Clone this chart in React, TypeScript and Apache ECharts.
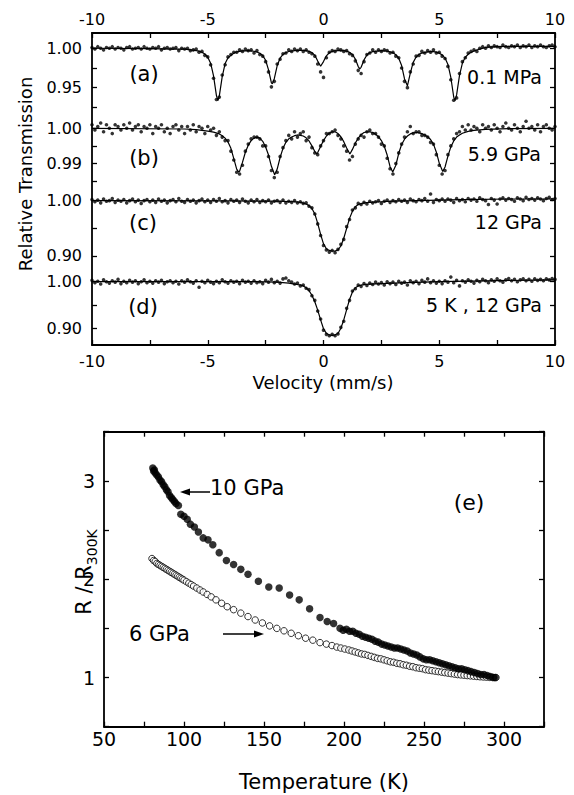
import React, { useEffect, useRef } from 'react';
import * as echarts from 'echarts';

const FONT = 'DejaVu Sans';

// Mössbauer channel grid: velocity = V_START + i * V_STEP
const V_START = -10;
const V_STEP = 0.125;

// (a) 0.1 MPa — measured points
const A_PTS = [
  1.001, 0.999, 1.002, 1.000, 0.998, 1.001, 1.000, 1.002, 0.999, 1.001,
  1.000, 0.998, 1.001, 1.002, 0.999, 1.000, 1.001, 0.999, 1.002, 1.000,
  0.999, 1.001, 1.000, 1.002, 0.998, 1.000, 1.001, 0.999, 1.000, 1.001,
  0.997, 1.000, 0.999, 1.000, 0.997, 0.998, 0.999, 0.995, 0.996, 0.991,
  0.989, 0.979, 0.962, 0.935, 0.938, 0.966, 0.979, 0.989, 0.992, 0.995,
  0.995, 0.998, 0.996, 0.999, 0.997, 0.998, 0.994, 0.997, 0.992, 0.990,
  0.983, 0.970, 0.951, 0.958, 0.980, 0.986, 0.993, 0.994, 0.998, 0.996,
  0.999, 0.997, 0.999, 0.996, 0.998, 0.995, 0.993, 0.990, 0.980, 0.970,
  0.963, 0.988, 0.995, 0.997, 0.996, 0.999, 0.998, 0.996, 0.997, 0.993,
  0.991, 0.984, 0.972, 0.968, 0.983, 0.992, 0.994, 0.998, 0.995, 0.998,
  0.996, 0.998, 0.997, 0.994, 0.995, 0.990, 0.988, 0.975, 0.958, 0.950,
  0.970, 0.980, 0.990, 0.991, 0.996, 0.994, 0.997, 0.995, 0.998, 0.994,
  0.995, 0.990, 0.987, 0.977, 0.960, 0.934, 0.937, 0.968, 0.983, 0.988,
  0.994, 0.996, 0.998, 0.996, 1.000, 1.002, 1.000, 1.003, 1.001, 1.003,
  1.002, 1.001, 1.004, 1.002, 1.001, 1.003, 1.002, 1.004, 1.001, 1.003,
  1.002, 1.004, 1.001, 1.003, 1.002, 1.004, 1.002, 1.001, 1.003, 1.004,
  1.002,
];
// (a) fitted curve [velocity, transmission]
const A_FIT = [
  [-10, 1.0], [-7.5, 0.9995], [-6.5, 0.999], [-6, 0.9988], [-5.75, 0.998], [-5.5, 0.997],
  [-5.375, 0.9963], [-5.25, 0.9949], [-5.125, 0.9927], [-5, 0.9887], [-4.875, 0.981],
  [-4.75, 0.965], [-4.625, 0.94], [-4.56, 0.9335], [-4.5, 0.9395], [-4.375, 0.964],
  [-4.25, 0.9806], [-4.125, 0.988], [-4, 0.991], [-3.875, 0.9936], [-3.75, 0.9955],
  [-3.5, 0.9966], [-3.25, 0.9969], [-3, 0.9962], [-2.875, 0.9953], [-2.75, 0.9937],
  [-2.625, 0.9907], [-2.5, 0.9848], [-2.375, 0.9726], [-2.25, 0.9561], [-2.21, 0.955],
  [-2.125, 0.9614], [-2, 0.9781], [-1.875, 0.9874], [-1.75, 0.9921], [-1.625, 0.9945],
  [-1.5, 0.9959], [-1.25, 0.997], [-1, 0.9975], [-0.75, 0.997], [-0.625, 0.996],
  [-0.5, 0.9945], [-0.375, 0.991], [-0.25, 0.9837], [-0.125, 0.9772], [0, 0.9831],
  [0.125, 0.9904], [0.25, 0.9943], [0.375, 0.996], [0.5, 0.9968], [0.75, 0.9973],
  [0.875, 0.9969], [1, 0.9963], [1.125, 0.9948], [1.25, 0.9921], [1.375, 0.9863],
  [1.5, 0.9768], [1.57, 0.9738], [1.625, 0.9759], [1.75, 0.9852], [1.875, 0.9914],
  [2, 0.9945], [2.125, 0.9958], [2.5, 0.9969], [2.75, 0.9963], [2.875, 0.9955],
  [3, 0.9942], [3.125, 0.9918], [3.25, 0.9872], [3.375, 0.9781], [3.5, 0.9611],
  [3.625, 0.9523], [3.75, 0.9684], [3.875, 0.9821], [4, 0.9888], [4.125, 0.9922],
  [4.25, 0.9939], [4.5, 0.9953], [4.625, 0.996], [4.75, 0.9957], [4.875, 0.9951],
  [5, 0.9938], [5.125, 0.9916], [5.25, 0.9876], [5.375, 0.9795], [5.5, 0.9631],
  [5.625, 0.9381], [5.68, 0.9336], [5.75, 0.9408], [5.875, 0.9657], [6, 0.9812],
  [6.125, 0.9886], [6.25, 0.9924], [6.375, 0.9948], [6.5, 0.9965], [6.75, 0.999],
  [7, 1.001], [7.5, 1.002], [8, 1.0025], [10, 1.0025],
];

// (b) 5.9 GPa
const B_PTS = [
  1.0010, 0.9995, 1.0005, 1.0015, 0.9990, 1.0010, 1.0000, 0.9985, 1.0010, 1.0005,
  0.9995, 1.0010, 1.0000, 1.0015, 0.9995, 1.0005, 1.0010, 0.9990, 1.0005, 1.0000,
  1.0010, 0.9985, 1.0005, 1.0000, 1.0010, 0.9990, 1.0000, 0.9985, 1.0005, 1.0010,
  0.9995, 1.0005, 0.9985, 1.0005, 0.9995, 1.0010, 0.9990, 1.0005, 1.0000, 0.9985,
  1.0005, 0.9995, 1.0000, 0.9980, 0.9990, 0.9975, 0.9965, 0.9965, 0.9935, 0.9910,
  0.9875, 0.9870, 0.9895, 0.9935, 0.9955, 0.9970, 0.9975, 0.9975, 0.9970, 0.9950,
  0.9950, 0.9920, 0.9880, 0.9860, 0.9875, 0.9920, 0.9945, 0.9965, 0.9980, 0.9970,
  0.9990, 0.9975, 0.9985, 0.9990, 0.9965, 0.9975, 0.9945, 0.9930, 0.9925, 0.9950,
  0.9965, 0.9985, 0.9985, 0.9990, 0.9995, 0.9980, 0.9970, 0.9950, 0.9935, 0.9910,
  0.9920, 0.9955, 0.9970, 0.9980, 0.9975, 0.9990, 0.9995, 0.9985, 0.9985, 0.9975,
  0.9955, 0.9950, 0.9915, 0.9885, 0.9870, 0.9900, 0.9930, 0.9955, 0.9975, 0.9990,
  1.0005, 0.9985, 0.9990, 0.9990, 0.9980, 0.9980, 0.9975, 0.9960, 0.9955, 0.9925,
  0.9895, 0.9870, 0.9880, 0.9925, 0.9950, 0.9970, 0.9985, 0.9990, 1.0005, 0.9995,
  1.0010, 0.9995, 1.0005, 1.0000, 0.9990, 1.0010, 1.0000, 1.0005, 0.9995, 1.0010,
  1.0000, 0.9990, 1.0005, 1.0015, 1.0000, 0.9995, 1.0010, 1.0000, 0.9990, 1.0005,
  1.0020, 1.0000, 1.0005, 0.9995, 1.0010, 0.9990, 1.0005, 1.0010, 1.0000, 0.9995,
  1.0005,
];
const B_FIT = [
  [-10, 1.0], [-6, 0.9998], [-5.5, 0.9996], [-5, 0.9992], [-4.75, 0.9989], [-4.5, 0.9984],
  [-4.375, 0.9979], [-4.25, 0.9972], [-4.125, 0.9961], [-4, 0.9943], [-3.875, 0.9914],
  [-3.75, 0.9884], [-3.67, 0.9876], [-3.625, 0.9878], [-3.5, 0.9903], [-3.375, 0.9932],
  [-3.25, 0.9952], [-3.125, 0.9965], [-3, 0.9972], [-2.875, 0.9975], [-2.75, 0.9972],
  [-2.625, 0.9963], [-2.5, 0.9947], [-2.375, 0.9924], [-2.25, 0.9892], [-2.11, 0.9868],
  [-2, 0.9884], [-1.875, 0.9917], [-1.75, 0.9943], [-1.625, 0.996], [-1.5, 0.997],
  [-1.375, 0.9975], [-1.25, 0.9979], [-1.125, 0.9981], [-1, 0.998], [-0.875, 0.9978],
  [-0.75, 0.9973], [-0.625, 0.9964], [-0.5, 0.995], [-0.375, 0.9934], [-0.29, 0.9927],
  [-0.25, 0.9931], [-0.125, 0.9948], [0, 0.9965], [0.125, 0.9978], [0.25, 0.9986],
  [0.375, 0.999], [0.5, 0.999], [0.625, 0.9985], [0.75, 0.9976], [0.875, 0.9962],
  [1, 0.9944], [1.14, 0.9927], [1.25, 0.994], [1.375, 0.9958], [1.5, 0.9972],
  [1.625, 0.9982], [1.75, 0.9988], [1.875, 0.999], [2, 0.999], [2.125, 0.9988],
  [2.25, 0.9983], [2.375, 0.9976], [2.5, 0.9965], [2.625, 0.9949], [2.75, 0.9924],
  [2.875, 0.9891], [2.99, 0.9876], [3.125, 0.9895], [3.25, 0.9929], [3.375, 0.9954],
  [3.5, 0.9969], [3.625, 0.9978], [3.75, 0.9984], [3.875, 0.9987], [4, 0.9988],
  [4.125, 0.9987], [4.25, 0.9985], [4.375, 0.9981], [4.5, 0.9976], [4.625, 0.9968],
  [4.75, 0.9955], [4.875, 0.9932], [5, 0.9901], [5.15, 0.9877], [5.25, 0.989],
  [5.375, 0.9921], [5.5, 0.9947], [5.625, 0.9964], [5.75, 0.9975], [5.875, 0.9981],
  [6, 0.9986], [6.25, 0.9991], [6.5, 0.9994], [7, 0.9997], [8, 0.9999], [10, 1.0],
];

// (c) 12 GPa
const C_PTS = [
  1.002, 0.998, 1.001, 0.996, 1.003, 0.999, 1.000, 1.004, 0.997, 1.001,
  0.999, 1.002, 0.996, 1.000, 1.003, 0.998, 1.001, 0.995, 1.000, 1.002,
  0.998, 1.001, 0.997, 1.003, 0.999, 1.001, 0.996, 1.000, 1.002, 0.998,
  1.004, 0.999, 0.997, 1.002, 0.999, 1.001, 0.996, 1.000, 1.003, 0.998,
  1.001, 0.997, 1.002, 0.999, 1.004, 0.998, 1.000, 0.996, 1.002, 0.999,
  1.001, 0.997, 1.003, 0.999, 0.996, 1.001, 0.998, 1.002, 0.997, 1.000,
  0.998, 1.001, 0.996, 0.999, 1.000, 0.997, 1.001, 0.996, 0.999, 0.997,
  1.000, 0.996, 0.998, 0.995, 0.996, 0.990, 0.987, 0.976, 0.958, 0.937,
  0.919, 0.911, 0.907, 0.910, 0.906, 0.912, 0.921, 0.930, 0.953, 0.966,
  0.983, 0.987, 0.995, 0.993, 0.997, 0.994, 0.999, 0.996, 0.998, 1.000,
  0.995, 0.999, 1.001, 0.997, 1.000, 0.998, 1.002, 0.999, 1.001, 0.997,
  1.003, 1.000, 0.998, 1.002, 1.000, 1.004, 0.999, 1.012, 0.997, 1.002,
  1.000, 1.003, 0.999, 1.003, 1.001, 0.997, 1.004, 1.000, 1.002, 0.998,
  1.004, 1.001, 1.003, 0.999, 1.005, 1.002, 1.000, 0.993, 1.004, 1.001,
  0.994, 1.003, 1.005, 1.001, 1.004, 1.002, 0.999, 1.005, 1.003, 1.000,
  1.006, 1.002, 1.004, 1.001, 1.005, 1.003, 1.000, 1.004, 1.006, 1.002,
  1.004,
];
const C_FIT = [
  [-10, 1.0], [-4, 0.9995], [-2, 0.999], [-1.25, 0.998], [-1, 0.997], [-0.75, 0.994],
  [-0.625, 0.991], [-0.5, 0.986], [-0.375, 0.976], [-0.25, 0.959], [-0.125, 0.939],
  [0, 0.922], [0.125, 0.913], [0.25, 0.91], [0.375, 0.909], [0.5, 0.909], [0.625, 0.911],
  [0.75, 0.918], [0.875, 0.932], [1, 0.95], [1.125, 0.968], [1.25, 0.981], [1.375, 0.989],
  [1.5, 0.993], [1.75, 0.996], [2, 0.997], [2.5, 0.998], [3, 0.999], [4, 1.0], [6, 1.002],
  [8, 1.003], [10, 1.003],
];

// (d) 5 K, 12 GPa
const D_PTS = [
  1.003, 0.998, 1.001, 0.995, 1.004, 1.000, 0.997, 1.002, 0.999, 1.005,
  0.996, 1.001, 0.998, 1.003, 0.999, 1.002, 0.996, 1.000, 1.004, 0.998,
  1.001, 0.997, 1.002, 0.999, 1.003, 0.996, 1.000, 1.002, 0.998, 1.001,
  0.995, 1.002, 0.999, 1.004, 1.000, 0.997, 1.002, 0.988, 1.001, 0.998,
  1.003, 0.999, 0.996, 1.001, 0.998, 1.004, 1.000, 0.997, 1.002, 0.999,
  1.001, 0.996, 1.003, 0.999, 1.001, 0.997, 1.002, 0.998, 1.000, 0.996,
  1.003, 0.999, 1.005, 0.998, 1.001, 0.997, 1.006, 1.008, 1.002, 0.999,
  0.995, 0.997, 0.991, 0.993, 0.986, 0.983, 0.970, 0.960, 0.937, 0.920,
  0.896, 0.887, 0.884, 0.887, 0.884, 0.888, 0.902, 0.915, 0.943, 0.960,
  0.980, 0.985, 0.993, 0.990, 0.996, 0.992, 0.997, 0.994, 0.999, 0.995,
  0.998, 0.993, 1.000, 0.996, 0.999, 0.994, 1.001, 0.997, 0.999, 0.993,
  1.002, 0.998, 1.001, 0.996, 1.003, 0.999, 1.006, 0.998, 1.002, 0.997,
  1.001, 0.996, 1.002, 0.999, 1.010, 0.998, 1.003, 0.991, 1.002, 0.999,
  1.004, 1.001, 0.997, 1.003, 1.000, 1.005, 1.002, 0.998, 1.004, 1.001,
  1.006, 1.002, 0.999, 1.004, 1.007, 1.002, 1.005, 1.000, 1.004, 1.006,
  1.002, 1.005, 1.001, 1.006, 1.003, 1.005, 1.002, 1.006, 1.004, 1.007,
  1.005,
];
const D_FIT = [
  [-10, 1.0], [-3, 1.0], [-2, 0.999], [-1.5, 0.997], [-1.25, 0.995], [-1, 0.993],
  [-0.875, 0.991], [-0.75, 0.987], [-0.625, 0.981], [-0.5, 0.971], [-0.375, 0.957],
  [-0.25, 0.939], [-0.125, 0.918], [0, 0.899], [0.125, 0.889], [0.25, 0.886],
  [0.375, 0.885], [0.5, 0.886], [0.625, 0.889], [0.75, 0.9], [0.875, 0.918], [1, 0.94],
  [1.125, 0.962], [1.25, 0.978], [1.375, 0.987], [1.5, 0.991], [1.75, 0.994], [2, 0.995],
  [3, 0.997], [5, 1.0], [7, 1.002], [10, 1.004],
];

// (e) resistance ratio vs temperature
const T_10GPA = [
  80.5, 81, 81.5, 82, 83, 84, 85, 86, 87, 88, 89, 90, 91, 92, 93, 94, 95,
  96.5, 98, 100, 102, 104, 106.5, 109, 112, 115, 118, 122, 126.5, 131, 135.5, 140,
  146.5, 153, 159.5, 166, 172, 178.5, 185, 189.5, 193.5, 197.5,
  199.5, 201.5, 203.5, 205.5, 207.5, 209.5, 211.5, 213.5, 215.5, 217.5,
  219.5, 221.5, 223.5, 225.5, 227.5, 229.5, 231.5, 233.5, 235.5, 237.5,
  239.5, 241.5, 243.5, 245.5, 247.5, 249.5, 251.5, 253.5, 255.5, 257.5,
  259.5, 261.5, 263.5, 265.5, 267.5, 269.5, 271.5, 273.5, 275.5, 277.5,
  279.5, 281.5, 283.5, 285.5, 287.5, 289.5, 291.5, 293.5, 294.5,
];
const R_10GPA = [
  3.13, 3.10, 3.11, 3.08, 3.06, 3.04, 3.01, 2.99, 2.96, 2.94, 2.91, 2.89, 2.85, 2.83, 2.81, 2.79, 2.77,
  2.75, 2.66, 2.64, 2.61, 2.56, 2.53, 2.48, 2.42, 2.40, 2.35, 2.27, 2.19, 2.15, 2.10, 2.05,
  1.98, 1.92, 1.91, 1.84, 1.79, 1.70, 1.61, 1.57, 1.55, 1.50,
  1.48, 1.49, 1.47, 1.47, 1.45, 1.44, 1.42, 1.41, 1.40, 1.39,
  1.37, 1.36, 1.34, 1.33, 1.32, 1.31, 1.30, 1.30, 1.29, 1.28,
  1.27, 1.25, 1.24, 1.23, 1.21, 1.19, 1.18, 1.18, 1.17, 1.16,
  1.15, 1.14, 1.13, 1.12, 1.11, 1.10, 1.09, 1.09, 1.08, 1.07,
  1.06, 1.05, 1.04, 1.03, 1.03, 1.02, 1.01, 1.00, 1.00,
];
const T_6GPA = [
  80, 81, 82, 83, 84, 85, 86, 87, 88, 89, 90, 91, 92, 93, 94, 95, 96, 97, 98, 99, 100,
  101.5, 103, 104.5, 106, 108, 110, 112, 114.5, 117, 120, 123.5, 127, 131, 135.5, 140,
  144.5, 149, 153.5, 158, 162.5, 167, 171.5, 176, 180.5, 185, 189, 192.5, 195.5, 198, 200.5,
  203, 205, 207, 209, 211, 213, 215, 217, 219, 221, 223, 225, 227, 229, 231, 233, 235, 237,
  239, 241, 243, 245, 247, 249, 251, 253, 255, 257, 259, 261, 263, 265, 267, 269, 271, 273,
  275, 277, 279, 281, 283, 285, 287, 289, 291, 293, 295,
];
const R_6GPA = [
  2.21, 2.19, 2.18, 2.16, 2.15, 2.14, 2.13, 2.12, 2.11, 2.10, 2.09, 2.08, 2.07, 2.06, 2.05, 2.04, 2.03, 2.02, 2.01, 2.00, 1.99,
  1.975, 1.96, 1.945, 1.93, 1.91, 1.89, 1.87, 1.845, 1.82, 1.79, 1.755, 1.72, 1.69, 1.655, 1.62,
  1.585, 1.555, 1.525, 1.50, 1.475, 1.45, 1.425, 1.40, 1.38, 1.355, 1.34, 1.325, 1.31, 1.30, 1.29,
  1.28, 1.27, 1.26, 1.25, 1.24, 1.235, 1.225, 1.215, 1.205, 1.195, 1.19, 1.18, 1.17, 1.16, 1.155, 1.145, 1.14, 1.13,
  1.125, 1.115, 1.11, 1.10, 1.095, 1.09, 1.08, 1.075, 1.07, 1.065, 1.06, 1.055, 1.05, 1.045, 1.04, 1.035, 1.03, 1.027,
  1.024, 1.02, 1.017, 1.014, 1.011, 1.008, 1.006, 1.004, 1.002, 1.001, 1.0,
];

const V_MAJOR = [-10, -5, 0, 5, 10];
const T_MAJOR = [50, 100, 150, 200, 250, 300];
const R_MAJOR = [1, 2, 3];

const toChannels = (arr: number[]) => arr.map((y, i) => [V_START + i * V_STEP, y]);
const pair = (xs: number[], ys: number[]) => xs.map((x, i) => [x, ys[i]]);

const BLACK = '#000';

function buildOption() {
  const L = 92;
  const W = 463;
  const panels = [
    { pts: A_PTS, fit: A_FIT, top: 32.5, height: 78.8, min: 0.92, max: 1.02, ticks: [0.925, 0.95, 0.975, 1.0], labels: [0.95, 1.0] },
    { pts: B_PTS, fit: B_FIT, top: 114.2, height: 70.4, min: 0.984, max: 1.004, ticks: [0.985, 0.99, 0.995, 1.0], labels: [0.99, 1.0] },
    { pts: C_PTS, fit: C_FIT, top: 189.6, height: 71.9, min: 0.89, max: 1.02, ticks: [0.9, 0.95, 1.0], labels: [0.9, 1.0] },
    { pts: D_PTS, fit: D_FIT, top: 272.4, height: 72.2, min: 0.865, max: 1.02, ticks: [0.9, 0.95, 1.0], labels: [0.9, 1.0] },
  ];
  const axisLine = { show: true, onZero: false, lineStyle: { color: BLACK, width: 1.8 } };
  const noLine = { show: false, onZero: false };
  const tickStyle = { color: BLACK, width: 1.3 };
  const label = (size: number, extra: any = {}) => ({ color: BLACK, fontFamily: FONT, fontSize: size, ...extra });

  const grid: any[] = [{ left: L, top: 33, width: W, height: 312 }];
  const xAxis: any[] = [
    {
      gridIndex: 0, type: 'value', position: 'bottom', min: -10, max: 10, interval: 2.5,
      axisLine, splitLine: { show: false },
      axisTick: { show: true, inside: true, length: 5, lineStyle: tickStyle },
      axisLabel: label(16, { margin: 8, customValues: V_MAJOR }),
    },
    {
      gridIndex: 0, type: 'value', position: 'top', min: -10, max: 10, interval: 2.5,
      axisLine, splitLine: { show: false },
      axisTick: { show: true, inside: true, length: 5, lineStyle: tickStyle },
      axisLabel: label(16, { margin: 6, customValues: V_MAJOR }),
    },
  ];
  const yAxis: any[] = [
    { gridIndex: 0, type: 'value', position: 'left', min: 0, max: 1, axisLine, axisTick: { show: false }, axisLabel: { show: false }, splitLine: { show: false } },
    { gridIndex: 0, type: 'value', position: 'right', min: 0, max: 1, axisLine, axisTick: { show: false }, axisLabel: { show: false }, splitLine: { show: false } },
  ];
  const series: any[] = [];

  panels.forEach((p, k) => {
    const gi = k + 1;
    grid.push({ left: L, top: p.top, width: W, height: p.height });
    xAxis.push({ gridIndex: gi, type: 'value', min: -10, max: 10, show: false, axisLine: noLine });
    const xi = xAxis.length - 1;
    const tick = { show: true, inside: true, length: 5, customValues: p.ticks, lineStyle: tickStyle };
    yAxis.push({
      gridIndex: gi, type: 'value', position: 'left', min: p.min, max: p.max,
      axisLine: noLine, splitLine: { show: false }, axisTick: tick,
      axisLabel: label(16, { margin: 10, customValues: p.labels, formatter: (v: number) => v.toFixed(2) }),
    });
    const yi = yAxis.length - 1;
    yAxis.push({
      gridIndex: gi, type: 'value', position: 'right', min: p.min, max: p.max,
      axisLine: noLine, splitLine: { show: false }, axisTick: tick, axisLabel: { show: false },
    });
    series.push({
      type: 'scatter', xAxisIndex: xi, yAxisIndex: yi, data: toChannels(p.pts),
      symbolSize: 3.6, itemStyle: { color: BLACK }, silent: true,
    });
    series.push({
      type: 'line', xAxisIndex: xi, yAxisIndex: yi, data: p.fit, symbol: 'none', showSymbol: false,
      lineStyle: { color: BLACK, width: 1.2 }, silent: true,
    });
  });

  // bottom panel (e)
  const BG = grid.length;
  grid.push({ left: 104, top: 431.7, width: 440, height: 295 });
  xAxis.push({
    gridIndex: BG, type: 'value', position: 'bottom', min: 50, max: 325, interval: 25,
    axisLine, splitLine: { show: false },
    axisTick: { show: true, inside: true, length: 5, lineStyle: tickStyle },
    axisLabel: label(19, { margin: 3, customValues: T_MAJOR }),
  });
  const bx = xAxis.length - 1;
  xAxis.push({
    gridIndex: BG, type: 'value', position: 'top', min: 50, max: 325, interval: 25,
    axisLine, splitLine: { show: false },
    axisTick: { show: true, inside: true, length: 5, lineStyle: tickStyle },
    axisLabel: { show: false },
  });
  yAxis.push({
    gridIndex: BG, type: 'value', position: 'left', min: 0.5, max: 3.5, interval: 0.5,
    axisLine, splitLine: { show: false },
    axisTick: { show: true, inside: true, length: 5, lineStyle: tickStyle },
    axisLabel: label(19, { margin: 9, customValues: R_MAJOR }),
  });
  const by = yAxis.length - 1;
  yAxis.push({
    gridIndex: BG, type: 'value', position: 'right', min: 0.5, max: 3.5, interval: 0.5,
    axisLine, splitLine: { show: false },
    axisTick: { show: true, inside: true, length: 5, lineStyle: tickStyle },
    axisLabel: { show: false },
  });
  series.push({
    type: 'scatter', xAxisIndex: bx, yAxisIndex: by, data: pair(T_6GPA, R_6GPA),
    symbol: 'circle', symbolSize: 6.5, itemStyle: { color: '#fff', borderColor: BLACK, borderWidth: 1 }, silent: true,
  });
  series.push({
    type: 'scatter', xAxisIndex: bx, yAxisIndex: by, data: pair(T_10GPA, R_10GPA),
    symbol: 'circle', symbolSize: 7.5, itemStyle: { color: BLACK }, silent: true,
  });

  const txt = (text: string, x: number, y: number, size: number, align = 'center', rotation = 0) => ({
    type: 'text', x, y, rotation, silent: true,
    style: { text, fill: BLACK, fontSize: size, fontFamily: FONT, align, verticalAlign: 'middle' },
  });

  const graphic: any[] = [
    txt('(a)', 144, 74, 21),
    txt('(b)', 144, 158, 21),
    txt('(c)', 143, 223, 21),
    txt('(d)', 143, 307, 21),
    txt('0.1 MPa', 542, 77, 19, 'right'),
    txt('5.9 GPa', 541, 154, 19, 'right'),
    txt('12 GPa', 542, 222, 19, 'right'),
    txt('5 K , 12 GPa', 542, 305, 19, 'right'),
    txt('Relative Transmission', 25, 174, 18, 'center', Math.PI / 2),
    txt('Velocity (mm/s)', 323, 382, 18),
    txt('Temperature (K)', 324, 782, 21),
    {
      type: 'text', x: 84, y: 572, rotation: Math.PI / 2, silent: true,
      style: {
        text: '{m|R\u00a0/\u00a0R}{s|300K}', fill: BLACK, fontFamily: FONT, fontSize: 21,
        align: 'center', verticalAlign: 'middle',
        rich: {
          m: { fontSize: 21, fontFamily: FONT, fill: BLACK, lineHeight: 30, verticalAlign: 'middle' },
          s: { fontSize: 14, fontFamily: FONT, fill: BLACK, lineHeight: 14, verticalAlign: 'bottom' },
        },
      },
    },
    txt('10 GPa', 210, 488, 21, 'left'),
    txt('6 GPa', 129, 634, 21, 'left'),
    txt('(e)', 469, 502, 22),
    { type: 'line', silent: true, shape: { x1: 210, y1: 492, x2: 187, y2: 492 }, style: { stroke: BLACK, lineWidth: 1.5 } },
    { type: 'polygon', silent: true, shape: { points: [[180, 492], [190, 488.5], [190, 495.5]] }, style: { fill: BLACK } },
    { type: 'line', silent: true, shape: { x1: 223, y1: 634, x2: 257, y2: 634 }, style: { stroke: BLACK, lineWidth: 1.5 } },
    { type: 'polygon', silent: true, shape: { points: [[264, 634], [254, 630.5], [254, 637.5]] }, style: { fill: BLACK } },
  ];

  return {
    animation: false,
    backgroundColor: '#fff',
    grid, xAxis, yAxis, series, graphic,
  };
}

export default function App() {
  const ref = useRef<HTMLDivElement>(null);
  useEffect(() => {
    if (!ref.current) return;
    const chart = echarts.init(ref.current, null, { renderer: 'svg' });
    chart.setOption(buildOption() as any);
    return () => chart.dispose();
  }, []);
  return (
    <div
      ref={ref}
      style={{ position: 'fixed', left: 0, top: 0, width: 574, height: 795, background: '#fff' }}
    />
  );
}
